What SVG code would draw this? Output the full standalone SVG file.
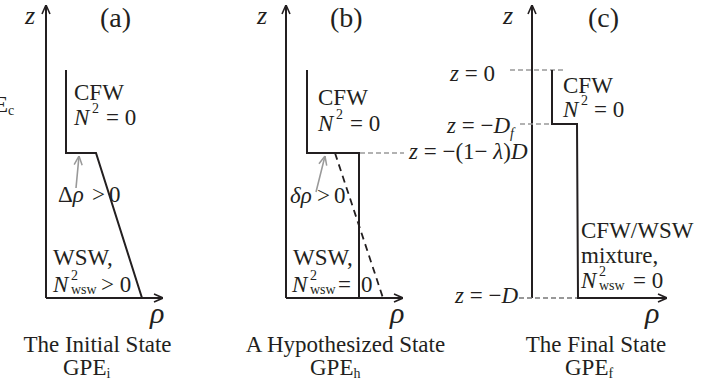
<svg xmlns="http://www.w3.org/2000/svg" width="721" height="386" viewBox="0 0 721 386">
<style>
text{font-family:'Liberation Serif','Times New Roman','DejaVu Serif',serif;font-size:23px;fill:#231f20}
.i{font-style:italic}
.s{font-size:14px}
.big{font-size:30px}
.ax{stroke:#231f20;stroke-width:2;fill:none}
.pr{stroke:#231f20;stroke-width:2;fill:none}
.gd{stroke:#999;stroke-width:1.6;stroke-dasharray:5 3;fill:none}
.bd{stroke:#231f20;stroke-width:1.8;stroke-dasharray:7 5;fill:none}
.ga{stroke:#999;stroke-width:1.6;fill:none}
</style>
<defs>
<marker id="ah" viewBox="0 0 10 10" refX="10" refY="5" markerWidth="10" markerHeight="10" markerUnits="userSpaceOnUse" orient="auto">
<path d="M1,1 L10,5 L1,9" fill="none" stroke="#231f20" stroke-width="1.6"/>
</marker>
<marker id="gah" viewBox="0 0 10 10" refX="10" refY="5" markerWidth="10" markerHeight="10" markerUnits="userSpaceOnUse" orient="auto">
<path d="M1,1 L10,5 L1,9" fill="none" stroke="#999" stroke-width="1.5"/>
</marker>
</defs>
<rect width="721" height="386" fill="#fff"/>

<text x="-6" y="112" font-family="Liberation Serif, serif">E<tspan class="s" dy="3">c</tspan></text>

<g id="connectors">
<line class="ax" x1="46" y1="298" x2="46" y2="5" marker-end="url(#ah)"/>
<line class="ax" x1="46" y1="298" x2="163" y2="298" marker-end="url(#ah)"/>
<line class="ax" x1="286" y1="298" x2="286" y2="5" marker-end="url(#ah)"/>
<line class="ax" x1="286" y1="298" x2="403" y2="298" marker-end="url(#ah)"/>
<line class="ax" x1="532" y1="298" x2="532" y2="5" marker-end="url(#ah)"/>
<line class="ax" x1="577" y1="298" x2="667" y2="298" marker-end="url(#ah)"/>
<line class="ga" x1="76" y1="188" x2="79" y2="156" marker-end="url(#gah)"/>
<line class="ga" x1="316" y1="192" x2="325" y2="156" marker-end="url(#gah)"/>
<line class="gd" x1="360" y1="153" x2="404" y2="153"/>
<line class="gd" x1="510" y1="70" x2="563" y2="70"/>
<line class="gd" x1="520" y1="124" x2="577" y2="124"/>
<line class="gd" x1="519" y1="298" x2="577" y2="298" style="stroke:#777"/>
</g>

<g id="panel-a" font-family="Liberation Serif, serif">
<text class="i" x="25" y="24" style="font-size:26px">z</text>
<text x="100" y="27" style="font-size:28px">(a)</text>
<polyline class="pr" points="66,70 66,153 96,153 142,298"/>
<text x="74" y="100">CFW</text>
<text class="i" x="74" y="125">N</text>
<text class="s" x="92" y="113">2</text>
<text x="106" y="125">= 0</text>
<text x="58" y="202">Δ<tspan class="i">ρ</tspan></text>
<text x="92" y="202">&gt;</text>
<text x="109" y="202">0</text>
<text x="53" y="265">WSW,</text>
<text class="i" x="53" y="292">N</text>
<text class="s" x="71" y="280">2</text>
<text class="s" x="71" y="294">wsw</text>
<text x="101" y="292">&gt; 0</text>
<text class="i big" x="150" y="323">ρ</text>
<text x="97.5" y="352" text-anchor="middle">The Initial State</text>
<text x="63" y="375">GPE<tspan class="s" dy="3">i</tspan></text>
</g>

<g id="panel-b" font-family="Liberation Serif, serif">
<text class="i" x="257" y="24" style="font-size:26px">z</text>
<text x="330" y="27" style="font-size:28px">(b)</text>
<polyline class="pr" points="307,70 307,153 359,153 359,298"/>
<line class="bd" x1="335" y1="153" x2="383" y2="298"/>
<text x="318" y="105">CFW</text>
<text class="i" x="318" y="131">N</text>
<text class="s" x="336" y="119">2</text>
<text x="350" y="131">= 0</text>
<text x="290" y="203"><tspan class="i">δρ</tspan></text>
<text x="317" y="203">&gt;</text>
<text x="334" y="203">0</text>
<text x="293" y="265">WSW,</text>
<text class="i" x="292" y="292">N</text>
<text class="s" x="310" y="280">2</text>
<text class="s" x="310" y="294">wsw</text>
<text x="338" y="292">=</text>
<text x="361" y="292">0</text>
<text class="i big" x="390" y="323">ρ</text>
<text x="345.5" y="352" text-anchor="middle">A Hypothesized State</text>
<text x="310" y="375">GPE<tspan class="s" dy="3">h</tspan></text>
</g>

<g id="panel-c" font-family="Liberation Serif, serif">
<text class="i" x="503" y="24" style="font-size:26px">z</text>
<text x="588" y="27" style="font-size:28px">(c)</text>
<polyline class="pr" points="552,70 552,124 577,124 578,298"/>
<text x="563" y="93">CFW</text>
<text class="i" x="563" y="117">N</text>
<text class="s" x="581" y="105">2</text>
<text x="594" y="117">= 0</text>
<text x="581" y="238">CFW/WSW</text>
<text x="581" y="263">mixture,</text>
<text class="i" x="581" y="288">N</text>
<text class="s" x="599" y="276">2</text>
<text class="s" x="599" y="290">wsw</text>
<text x="633" y="288">= 0</text>
<text class="i big" x="645" y="323">ρ</text>
<text x="596" y="352" text-anchor="middle">The Final State</text>
<text x="565" y="375">GPE<tspan class="s" dy="3">f</tspan></text>
</g>

<g id="depth-labels" font-family="Liberation Serif, serif">
<text x="450" y="81"><tspan class="i">z</tspan> = 0</text>
<text x="447" y="133"><tspan class="i">z</tspan> = −<tspan class="i">D</tspan><tspan class="s i" dy="5">f</tspan></text>
<text x="409" y="159"><tspan class="i">z</tspan> = −(1− <tspan class="i">λ</tspan>)<tspan class="i">D</tspan></text>
<text x="455" y="303"><tspan class="i">z</tspan> = −<tspan class="i">D</tspan></text>
</g>
</svg>
